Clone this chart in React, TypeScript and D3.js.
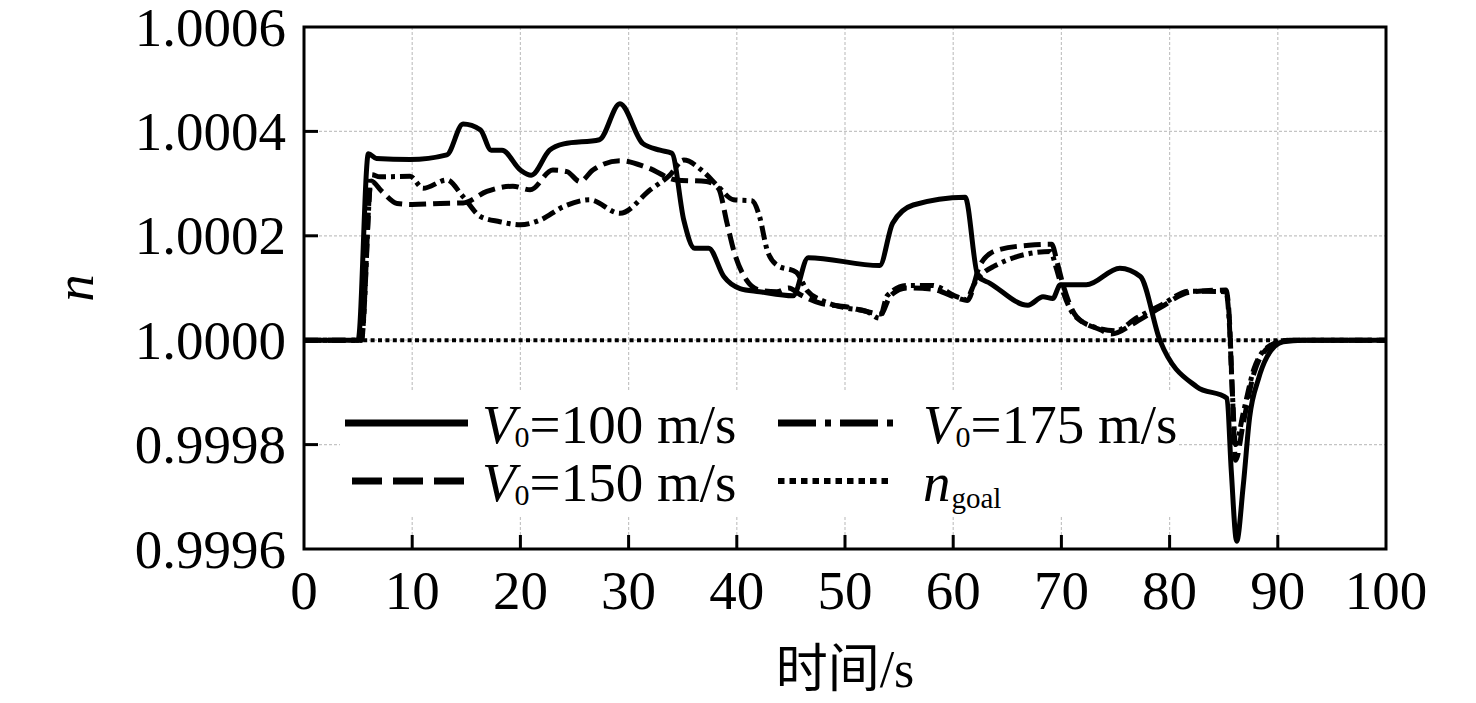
import React from "react";
import * as d3 from "d3";

// ---- data ----
const xTicks = [0, 10, 20, 30, 40, 50, 60, 70, 80, 90, 100];
const yTicks = [0.9996, 0.9998, 1.0, 1.0002, 1.0004, 1.0006];

const t100 = [0, 5.0, 5.95, 6.7, 9.8, 13.2, 14.7, 16.3, 17.3, 18.3, 20.0, 21.0, 22.7, 24.0, 27.3, 29.2, 31.3, 32.9, 34.0, 35.1, 36.1, 37.4, 38.8, 40.3, 42.1, 45.2, 46.6, 53.2, 54.4, 56.3, 61.1, 62.3, 63.4, 66.9, 68.3, 69.2, 69.9, 72.3, 75.4, 77.3, 79.1, 82.5, 85.3, 85.7, 86.2, 86.8, 87.4, 88.2, 89.0, 90.5, 92.3, 100];
const n100 = [1, 1, 1.000357, 1.000348, 1.000346, 1.000355, 1.000414, 1.000403, 1.000364, 1.000364, 1.000326, 1.000316, 1.000364, 1.000376, 1.000384, 1.000453, 1.000377, 1.000364, 1.000358, 1.00023, 1.000176, 1.000176, 1.000122, 1.000099, 1.000093, 1.000085, 1.000158, 1.000143, 1.000224, 1.000259, 1.000274, 1.000122, 1.000109, 1.000067, 1.000083, 1.00008, 1.000106, 1.000106, 1.000138, 1.000122, 1.0, 0.999911, 0.999889, 0.99975, 0.999615, 0.99972, 0.999853, 0.999925, 0.999968, 0.999997, 1, 1];

const t150 = [0, 5.3, 6.2, 7.2, 8.6, 10, 12.6, 14.7, 16.9, 19.3, 20.9, 23.0, 24.3, 25.5, 26.7, 29.2, 31.7, 34.4, 37.2, 38.3, 39.1, 39.7, 40.9, 42.1, 43.7, 44.8, 45.8, 47.7, 50.1, 52.0, 53.3, 54.2, 55.7, 58.0, 60.5, 61.3, 62.5, 64.0, 67.0, 69.1, 69.6, 70.1, 71.4, 73.6, 74.6, 76.9, 79.1, 81.9, 85.2, 85.5, 85.8, 86.1, 86.8, 87.8, 89.3, 91.1, 100];
const n150 = [1, 1, 1.000305, 1.000285, 1.000262, 1.00026, 1.000262, 1.000263, 1.000285, 1.000295, 1.000288, 1.000326, 1.000323, 1.000304, 1.000326, 1.000344, 1.000331, 1.000307, 1.000304, 1.000291, 1.000224, 1.000173, 1.000115, 1.000096, 1.000093, 1.0001, 1.000088, 1.000071, 1.000064, 1.000055, 1.00005, 1.000085, 1.0001, 1.000098, 1.00008, 1.000076, 1.000145, 1.000172, 1.000182, 1.000184, 1.00015, 1.00011, 1.000045, 1.00002, 1.000012, 1.000035, 1.000062, 1.000092, 1.000096, 1.00005, 0.9999, 0.99977, 0.99984, 0.999937, 0.999988, 1, 1];

const t175 = [0, 5.3, 6.25, 7.0, 9.8, 11.0, 13.2, 14.7, 16.3, 18.1, 20.0, 21.8, 24.0, 26.4, 29.2, 32.0, 33.8, 35.1, 36.9, 38.3, 39.7, 41.4, 42.1, 42.8, 43.7, 45.5, 46.5, 48.0, 50.0, 52.0, 53.2, 53.9, 55.7, 58.0, 60.5, 61.2, 62.0, 63.7, 69.0, 69.5, 70.2, 71.3, 73.6, 75.0, 76.9, 79.1, 81.9, 85.2, 85.5, 85.8, 86.1, 86.8, 87.8, 89.3, 91.0, 100];
const n175 = [1, 1, 1.000317, 1.000313, 1.000314, 1.000291, 1.000307, 1.000275, 1.000237, 1.000227, 1.000221, 1.00023, 1.000256, 1.000269, 1.000243, 1.000288, 1.000316, 1.000345, 1.000323, 1.000294, 1.000269, 1.000267, 1.000237, 1.000173, 1.000144, 1.00013, 1.000095, 1.000075, 1.000062, 1.000055, 1.000042, 1.000085, 1.000105, 1.000105, 1.000082, 1.000078, 1.00011, 1.000141, 1.00017, 1.00014, 1.00009, 1.000045, 1.000022, 1.000018, 1.000042, 1.000066, 1.000094, 1.000093, 1.00004, 0.9999, 0.9998, 0.99986, 0.999945, 0.99999, 1, 1];

const tGoal = [0, 100];
const nGoal = [1, 1];

const FONT = "'Liberation Serif', 'Times New Roman', 'Noto Sans CJK SC', serif";

export default function App() {
  const W = 1476, H = 703;
  const L = 304, R = 1386, T = 27, B = 549;
  const x = d3.scaleLinear().domain([0, 100]).range([L, R]);
  const y = d3.scaleLinear().domain([0.9996, 1.0006]).range([B, T]);
  const line = d3.line<[number, number]>().x((d) => x(d[0])).y((d) => y(d[1])).curve(d3.curveMonotoneX);
  const zip = (a: number[], b: number[]) => a.map((v, i) => [v, b[i]] as [number, number]);
  const fmt = d3.format(".4f");

  const series = [
    { t: tGoal, n: nGoal, dash: "4,3.4", w: 4 },
    { t: t175, n: n175, dash: "14,5,4,5", w: 5 },
    { t: t150, n: n150, dash: "17,7", w: 5 },
    { t: t100, n: n100, dash: "none", w: 5 },
  ];

  const legendItems = [
    { lx1: 345, lx2: 468, ly: 423, dash: "none", tx: 482, ty: 443, lab: "=100 m/s", sub: "0", main: "V" },
    { lx1: 352, lx2: 470, ly: 481, dash: "30,11", tx: 482, ty: 501, lab: "=150 m/s", sub: "0", main: "V" },
    { lx1: 778, lx2: 900, ly: 423, dash: "38,9,6,9", tx: 923, ty: 443, lab: "=175 m/s", sub: "0", main: "V" },
    { lx1: 778, lx2: 888, ly: 481, dash: "6.5,5", tx: 923, ty: 501, lab: "", sub: "goal", main: "n" },
  ];

  return (
    <svg width={W} height={H} style={{ position: "absolute", left: 0, top: 0, background: "#fff" }} fontFamily={FONT}>
      <rect x={0} y={0} width={W} height={H} fill="#fff" />
      {/* grid */}
      {xTicks.slice(1, -1).map((v) => (
        <line key={"gx" + v} x1={x(v)} x2={x(v)} y1={T} y2={B} stroke="#c4c4c4" strokeWidth={1.2} strokeDasharray="3,2" />
      ))}
      {yTicks.slice(1, -1).map((v) => (
        <line key={"gy" + v} x1={L} x2={R} y1={y(v)} y2={y(v)} stroke="#c4c4c4" strokeWidth={1.2} strokeDasharray="3,2" />
      ))}
      {/* legend background */}
      <rect x={340} y={390} width={838} height={127} fill="#fff" />
      {/* series */}
      {series.map((s, i) => (
        <path key={"s" + i} d={line(zip(s.t, s.n)) || ""} fill="none" stroke="#000" strokeWidth={s.w}
          strokeDasharray={s.dash} strokeLinejoin="round" />
      ))}
      {/* frame */}
      <rect x={L} y={T} width={R - L} height={B - T} fill="none" stroke="#000" strokeWidth={3} />
      {/* ticks */}
      {xTicks.slice(1, -1).map((v) => (
        <line key={"tx" + v} x1={x(v)} x2={x(v)} y1={B} y2={B - 14} stroke="#000" strokeWidth={3} />
      ))}
      {yTicks.slice(1, -1).map((v) => (
        <line key={"ty" + v} x1={L} x2={L + 14} y1={y(v)} y2={y(v)} stroke="#000" strokeWidth={3} />
      ))}
      {/* tick labels */}
      {xTicks.map((v) => (
        <text key={"lx" + v} x={x(v)} y={609} textAnchor="middle" fontSize={55} fill="#000">{v}</text>
      ))}
      {yTicks.map((v) => (
        <text key={"ly" + v} x={286} y={y(v) + 18.5} textAnchor="end" fontSize={55} fill="#000">{fmt(v)}</text>
      ))}
      {/* axis titles */}
      <text x={(L + R) / 2} y={687} textAnchor="middle" fontSize={52} fill="#000">时间/s</text>
      <text transform={`translate(93,${(T + B) / 2}) rotate(-90)`} textAnchor="middle" fontSize={55} fontStyle="italic" fill="#000">n</text>
      {/* legend */}
      {legendItems.map((it, i) => (
        <g key={"lg" + i}>
          <line x1={it.lx1} x2={it.lx2} y1={it.ly} y2={it.ly} stroke="#000" strokeWidth={it.dash === "6.5,5" ? 6 : 7} strokeDasharray={it.dash} />
          <text x={it.tx} y={it.ty} fontSize={55} fill="#000">
            <tspan fontStyle="italic">{it.main}</tspan>
            <tspan fontSize={it.sub === "goal" ? 29 : 30} dy={it.sub === "goal" ? 7 : 4} dx={it.main === "V" ? -1 : 1}>{it.sub}</tspan>
            {it.lab ? <tspan dy={-4}>{it.lab}</tspan> : null}
          </text>
        </g>
      ))}
    </svg>
  );
}
